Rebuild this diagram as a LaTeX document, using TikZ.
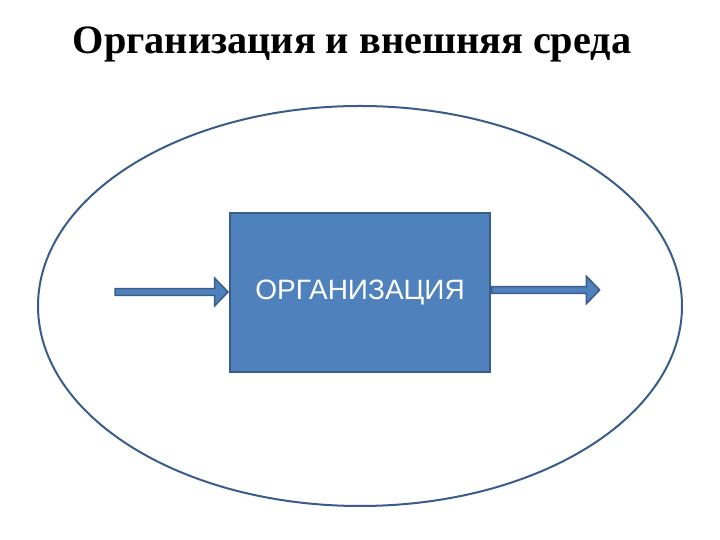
\documentclass[tikz,border=0pt]{standalone}
\usepackage{fontspec}
\setmainfont{Liberation Serif}
\newfontfamily\arialfont{Liberation Sans}
\usetikzlibrary{positioning,shapes.geometric,shapes.arrows}
\definecolor{orgblue}{HTML}{4F81BD}
\definecolor{orgedge}{HTML}{385D8A}
\tikzset{
  orgbox/.style={draw=orgedge,fill=orgblue,line width=1.8pt,minimum width=260pt,minimum height=159pt,font=\arialfont\fontsize{28}{30}\selectfont,text=white},
  flowarrow/.style={single arrow,draw=orgedge,fill=orgblue,line width=1.5pt,inner sep=2.6pt,single arrow head extend=10.5pt,single arrow tip angle=92,minimum width=27pt}
}
\begin{document}
\begin{tikzpicture}[x=1pt,y=1pt]
\useasboundingbox (0,0) rectangle (720,540);

\node [anchor=center] (title) at (352,496) {\fontsize{40.3}{44}\selectfont\bfseries Организация и внешняя среда};

\node [draw=orgedge,line width=2pt,ellipse,minimum width=644pt,minimum height=400pt] (env) at (360,234) {};

\node [orgbox] (org) at (360,247.5) {ОРГАНИЗАЦИЯ};

% input and output
\node [flowarrow,minimum height=113pt,anchor=east] (input) at ([yshift=0.5pt]org.west) {};
\node [flowarrow,minimum height=108pt,anchor=west] (output) at ([yshift=2.5pt]org.east) {};

\end{tikzpicture}
\end{document}
